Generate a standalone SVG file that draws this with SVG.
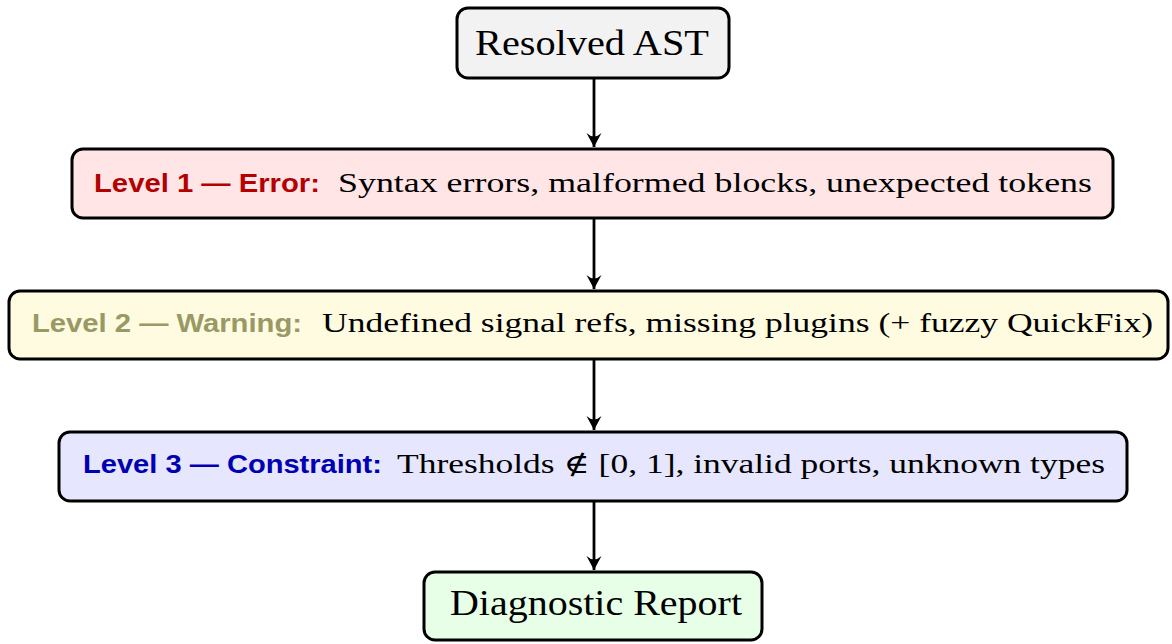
<svg xmlns="http://www.w3.org/2000/svg" width="1172" height="644" viewBox="0 0 1172 644">
<defs>
<style>
.box{stroke:#000;stroke-width:3}
.serif{font-family:"Liberation Serif","DejaVu Serif",serif;fill:#000}
.big{font-size:36px}
.mid{font-size:27px}
.lab{font-family:"Liberation Sans","DejaVu Sans",sans-serif;font-weight:bold;font-size:26px}
.conn{stroke:#000;stroke-width:2.8;fill:none}
</style>
<marker id="arr" viewBox="-15 -9 17 18" markerWidth="17" markerHeight="18" refX="0" refY="0" orient="auto" markerUnits="userSpaceOnUse">
<path d="M0,0 L-14,-7.5 Q-7,0 -14,7.5 Z" fill="#000"/>
</marker>
</defs>
<g id="connectors">
<line class="conn" x1="594" y1="79" x2="594" y2="147" marker-end="url(#arr)"/>
<line class="conn" x1="594" y1="219" x2="594" y2="289" marker-end="url(#arr)"/>
<line class="conn" x1="594" y1="360" x2="594" y2="430" marker-end="url(#arr)"/>
<line class="conn" x1="594" y1="502" x2="594" y2="570" marker-end="url(#arr)"/>
</g>
<g id="n1">
<rect class="box" x="457" y="8" width="272" height="70" rx="11" fill="#f2f2f2"/>
<text class="serif big" x="475" y="55" textLength="234" lengthAdjust="spacingAndGlyphs">Resolved AST</text>
</g>
<g id="n2">
<rect class="box" x="72" y="149" width="1041" height="69" rx="11" fill="#ffe5e5"/>
<text class="lab" x="94" y="192" fill="#b30000" textLength="226" lengthAdjust="spacingAndGlyphs">Level 1 — Error:</text>
<text class="serif mid" x="338" y="192" textLength="754" lengthAdjust="spacingAndGlyphs">Syntax errors, malformed blocks, unexpected tokens</text>
</g>
<g id="n3">
<rect class="box" x="9" y="291" width="1159" height="68" rx="11" fill="#fffbe0"/>
<text class="lab" x="32" y="332" fill="#999966" textLength="270" lengthAdjust="spacingAndGlyphs">Level 2 — Warning:</text>
<text class="serif mid" x="322" y="332" textLength="831" lengthAdjust="spacingAndGlyphs">Undefined signal refs, missing plugins (+ fuzzy QuickFix)</text>
</g>
<g id="n4">
<rect class="box" x="59" y="432" width="1068" height="69" rx="11" fill="#e6e6ff"/>
<text class="lab" x="83" y="473" fill="#0000b3" textLength="299" lengthAdjust="spacingAndGlyphs">Level 3 — Constraint:</text>
<text class="serif mid" x="397" y="473" textLength="708" lengthAdjust="spacingAndGlyphs">Thresholds ∉ [0, 1], invalid ports, unknown types</text>
</g>
<g id="n5">
<rect class="box" x="424" y="572" width="338" height="68" rx="11" fill="#e6ffe6"/>
<text class="serif big" x="450" y="615" textLength="292" lengthAdjust="spacingAndGlyphs">Diagnostic Report</text>
</g>
</svg>
